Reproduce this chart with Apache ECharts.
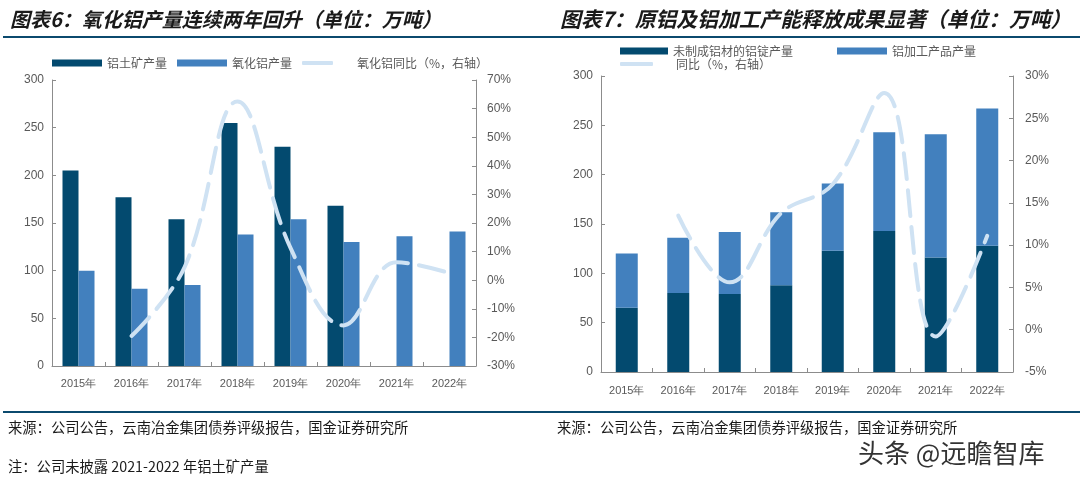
<!DOCTYPE html>
<html><head><meta charset="utf-8">
<script src="https://cdn.jsdelivr.net/npm/echarts@6/dist/echarts.min.js"></script>
<style>html,body{margin:0;padding:0;background:#fff}#c{width:1080px;height:482px}</style>
</head><body><div id="c"></div>
<script>
// ---- data ----
const years = ['2015年','2016年','2017年','2018年','2019年','2020年','2021年','2022年'];
// chart 6
const bauxite = [205, 177, 154, 255, 230, 168, null, null];
const alumina = [100, 81, 85, 138, 154, 130, 136, 141];
const aluminaYoy = [null, -19.5, 4.5, 62.5, 11.3, -15.8, 6.3, 2.5];
// chart 7
const ingotUnprocessed = [65, 80, 79, 88, 123, 143, 116, 128];
const processedProducts = [55, 56, 63, 74, 68, 100, 125, 139];
const totalYoy = [null, 13.5, 5.6, 13.8, 17.2, 28.0, -0.8, 11.1];

const names6 = ['铝土矿产量', '氧化铝产量', '氧化铝同比（%，右轴）'];
const names7 = ['未制成铝材的铝锭产量', '铝加工产品产量', '同比（%，右轴）'];
const title6 = '图表6：氧化铝产量连续两年回升（单位：万吨）';
const title7 = '图表7：原铝及铝加工产能释放成果显著（单位：万吨）';
const sourceText = '来源：公司公告，云南冶金集团债券评级报告，国金证券研究所';
const noteText = '注：公司未披露 2021-2022 年铝土矿产量';
const watermark = '头条 @远瞻智库';

const DARK = '#034a6f', MID = '#4280be', LIGHT = '#cfe2f3';
const AX = '#8c8c8c', TXT = '#595959';
const FONT = '"Noto Sans CJK SC", "Liberation Sans", sans-serif';
const NUMFONT = '"Liberation Sans", Arial, sans-serif';

const chart = echarts.init(document.getElementById('c'));

function axisBase() {
  return {
    axisLine: {show: true, lineStyle: {color: AX, width: 1}},
    axisTick: {show: true, inside: true, length: 4, lineStyle: {color: AX}},
    splitLine: {show: false},
    axisLabel: {color: TXT, fontSize: 12, fontFamily: NUMFONT}
  };
}

function legend(name, left, top, icon, w, h, pad) {
  return {
    data: [name], left: left, top: top, icon: icon, itemWidth: w, itemHeight: h,
    padding: 0, selectedMode: false,
    textStyle: {color: TXT, fontSize: 12, fontFamily: FONT, padding: pad || 0}
  };
}

const option = {
  animation: false,
  backgroundColor: '#fff',
  textStyle: {fontFamily: FONT},
  legend: [
    legend(names6[0], 52, 57, 'rect', 50, 7),
    legend(names6[1], 177, 57, 'rect', 50, 7),
    legend(names6[2], 302, 57, 'roundRect', 31, 4, [0, 0, 0, 19]),
    legend(names7[0], 620, 45, 'rect', 48, 7),
    legend(names7[1], 837, 45, 'rect', 50, 7),
    legend(names7[2], 620, 58, 'roundRect', 33, 4, [0, 0, 0, 18])
  ],
  grid: [
    {left: 52, right: 604, top: 80, bottom: 116},
    {left: 601, right: 67, top: 76, bottom: 110}
  ],
  xAxis: [
    Object.assign(axisBase(), {type: 'category', gridIndex: 0, data: years,
      axisLabel: {color: TXT, fontSize: 11, margin: 12, fontFamily: NUMFONT}}),
    Object.assign(axisBase(), {type: 'category', gridIndex: 1, data: years,
      axisLabel: {color: TXT, fontSize: 11, margin: 13, fontFamily: NUMFONT}})
  ],
  yAxis: [
    Object.assign(axisBase(), {type: 'value', gridIndex: 0, min: 0, max: 300, interval: 50}),
    Object.assign(axisBase(), {type: 'value', gridIndex: 0, position: 'right', min: -30, max: 70, interval: 10,
      axisLabel: {color: TXT, fontSize: 12, formatter: '{value}%', margin: 11, fontFamily: NUMFONT}}),
    Object.assign(axisBase(), {type: 'value', gridIndex: 1, min: 0, max: 300, interval: 50}),
    Object.assign(axisBase(), {type: 'value', gridIndex: 1, position: 'right', min: -5, max: 30, interval: 5,
      axisLabel: {color: TXT, fontSize: 12, formatter: '{value}%', margin: 12, fontFamily: NUMFONT}})
  ],
  series: [
    {name: names6[0], type: 'bar', xAxisIndex: 0, yAxisIndex: 0, data: bauxite,
      barWidth: 16, barGap: '0%', itemStyle: {color: DARK}},
    {name: names6[1], type: 'bar', xAxisIndex: 0, yAxisIndex: 0, data: alumina,
      barWidth: 16, barGap: '0%', itemStyle: {color: MID}},
    {name: names6[2], type: 'line', xAxisIndex: 0, yAxisIndex: 1, data: aluminaYoy,
      smooth: 0.4, showSymbol: false, symbol: 'none', z: 5,
      itemStyle: {color: LIGHT},
      lineStyle: {color: LIGHT, width: 4, type: [26, 11], cap: 'round'}},
    {name: names7[0], type: 'bar', xAxisIndex: 1, yAxisIndex: 2, data: ingotUnprocessed, stack: 's',
      barWidth: 22, itemStyle: {color: DARK}},
    {name: names7[1], type: 'bar', xAxisIndex: 1, yAxisIndex: 2, data: processedProducts, stack: 's',
      barWidth: 22, itemStyle: {color: MID}},
    {name: names7[2], type: 'line', xAxisIndex: 1, yAxisIndex: 3, data: totalYoy,
      smooth: 0.4, showSymbol: false, symbol: 'none', z: 5,
      itemStyle: {color: LIGHT},
      lineStyle: {color: LIGHT, width: 4, type: [26, 11], cap: 'round'}}
  ],
  graphic: [
    {type: 'text', left: 10, top: 9, style: {text: title6, fontSize: 20, fontWeight: 'bold', fontStyle: 'italic', fill: '#1a1a1a', fontFamily: FONT}},
    {type: 'text', left: 560, top: 9, style: {text: title7, fontSize: 20.8, fontWeight: 'bold', fontStyle: 'italic', fill: '#1a1a1a', fontFamily: FONT}},
    {type: 'rect', shape: {x: 3, y: 36, width: 1077, height: 2}, style: {fill: '#0b4a6e'}},
    {type: 'rect', shape: {x: 3, y: 411, width: 1077, height: 2}, style: {fill: '#0b4a6e'}},
    {type: 'text', left: 8, top: 420, style: {text: sourceText, fontSize: 14.3, fill: '#1a1a1a', fontFamily: FONT}},
    {type: 'text', left: 557, top: 420, style: {text: sourceText, fontSize: 14.3, fill: '#1a1a1a', fontFamily: FONT}},
    {type: 'text', left: 8, top: 459, style: {text: noteText, fontSize: 14.3, fill: '#1a1a1a', fontFamily: FONT}},
    {type: 'text', left: 858, top: 440, style: {text: watermark, fontSize: 26, fill: '#333', fontFamily: FONT}}
  ]
};
chart.setOption(option);
</script></body></html>
